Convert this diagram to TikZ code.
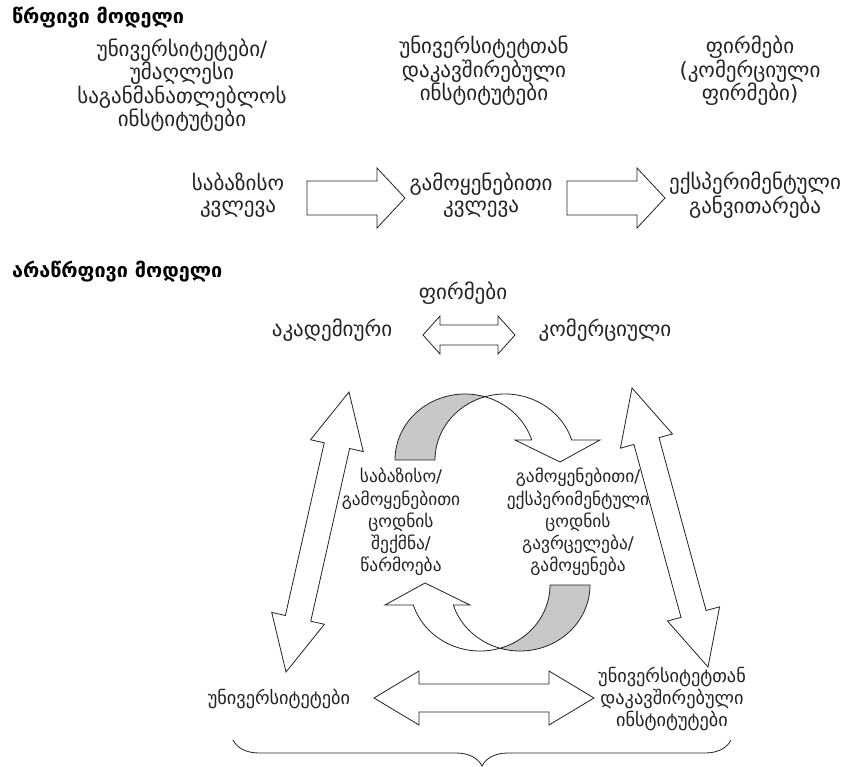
\documentclass[tikz,border=0pt]{standalone}
\usepackage{fontspec}
\setmainfont{DejaVu Sans}
\usetikzlibrary{calc,decorations.pathreplacing}

\definecolor{ink}{RGB}{35,35,35}
\definecolor{shade}{RGB}{200,200,200}

% block arrow with two heads: ends #1,#2; head length #3; head half width #4; shaft half width #5
\newcommand\dblarrow[5]{%
  \draw[blk] (#1) -- ($(#1)!#3!(#2)!#4!90:(#2)$) -- ($(#1)!#3!(#2)!#5!90:(#2)$)
    -- ($(#2)!#3!(#1)!#5!-90:(#1)$) -- ($(#2)!#3!(#1)!#4!-90:(#1)$) -- (#2)
    -- ($(#2)!#3!(#1)!#4!90:(#1)$) -- ($(#2)!#3!(#1)!#5!90:(#1)$)
    -- ($(#1)!#3!(#2)!#5!-90:(#2)$) -- ($(#1)!#3!(#2)!#4!-90:(#2)$) -- cycle;}
% block arrow with one head: tail #1, tip #2
\newcommand\sglarrow[5]{%
  \draw[blk] ($(#1)!#5!90:(#2)$) -- ($(#2)!#3!(#1)!#5!-90:(#1)$)
    -- ($(#2)!#3!(#1)!#4!-90:(#1)$) -- (#2) -- ($(#2)!#3!(#1)!#4!90:(#1)$)
    -- ($(#2)!#3!(#1)!#5!90:(#1)$) -- ($(#1)!#5!-90:(#2)$) -- cycle;}
% half-turn curved arrow: shaded back part and white front part with head
\newcommand\turnarrow{%
  \filldraw[blk, fill=shade]
    plot[domain=180:286.6, samples=40] ({465+70*cos(\x)},{460+66*sin(\x)})
    -- plot[domain=253.4:180, samples=40] ({505+70*cos(\x)},{460+66*sin(\x)}) -- cycle;
  \filldraw[blk]
    plot[domain=253.4:342.4, samples=50] ({505+70*cos(\x)},{460+66*sin(\x)})
    -- (600,440) -- (560,462) -- (515,440)
    -- plot[domain=342.4:286.6, samples=30] ({465+70*cos(\x)},{460+66*sin(\x)}) -- cycle;}

\begin{document}
\begin{tikzpicture}[x=1pt,y=-1pt,
  lbl/.style={align=center, inner sep=0pt, text=ink, font=\fontsize{21}{21.5}\selectfont},
  midlbl/.style={lbl, font=\fontsize{17.4}{22.2}\selectfont},
  lowlbl/.style={lbl, font=\fontsize{18.3}{22}\selectfont},
  heading/.style={anchor=west, inner sep=0pt, text=black, font=\fontsize{19.8}{22}\selectfont\bfseries},
  blk/.style={draw=ink, line width=0.8pt, fill=white, line join=miter}]

\fill[white] (0,0) rectangle (856,767);
\useasboundingbox (0,0) rectangle (856,767);

% ---- linear model ----
\node[heading] (title1) at (12,18) {წრფივი მოდელი};
\node[lbl] (univ)  at (182,85) {უნივერსიტეტები/\\უმაღლესი\\საგანმანათლებლოს\\ინსტიტუტები};
\node[lbl] (inst)  at (484,71) {უნივერსიტეტთან\\დაკავშირებული\\ინსტიტუტები};
\node[lbl] (firms) at (750,71) {ფირმები\\(კომერციული\\ფირმები)};

\node[lbl] (basic)   at (238,195) {საბაზისო\\კვლევა};
\node[lbl] (applied) at (481,195) {გამოყენებითი\\კვლევა};
\node[lbl] (exper)   at (755,195) {ექსპერიმენტული\\განვითარება};

\coordinate (a1s) at (307,198); \coordinate (a1e) at (405,198);
\coordinate (a2s) at (567,198); \coordinate (a2e) at (665,198);
\sglarrow{a1s}{a1e}{28pt}{30pt}{17pt}
\sglarrow{a2s}{a2e}{28pt}{30pt}{17pt}

% ---- non-linear model ----
\node[heading] (title2) at (12,272) {არაწრფივი მოდელი};
\node[lbl] (firmsB) at (463,293) {ფირმები};
\node[lbl] (acad)   at (332,330) {აკადემიური};
\node[lbl] (comm)   at (605,330) {კომერციული};
\coordinate (h1) at (423,335); \coordinate (h2) at (515,335);
\dblarrow{h1}{h2}{17pt}{19pt}{10pt}

% diagonal links
\coordinate (l1) at (349,392); \coordinate (l2) at (286,672);
\coordinate (r1) at (632,388); \coordinate (r2) at (708,667);
\dblarrow{l1}{l2}{55pt}{27pt}{13pt}
\dblarrow{r1}{r2}{55pt}{27pt}{13pt}

% knowledge cycle
\turnarrow
\begin{scope}[rotate around={180:(492.5,522.5)}]
  \turnarrow
\end{scope}

\node[midlbl] (create) at (401,522) {საბაზისო/\\გამოყენებითი\\ცოდნის\\შექმნა/\\წარმოება};
\node[midlbl] (spread) at (578,522) {გამოყენებითი/\\ექსპერიმენტული\\ცოდნის\\გავრცელება/\\გამოყენება};

% bottom row
\node[lowlbl] (unis)  at (279,699) {უნივერსიტეტები};
\node[lowlbl] (instB) at (672,699) {უნივერსიტეტთან\\დაკავშირებული\\ინსტიტუტები};
\coordinate (b1) at (374,698); \coordinate (b2) at (594,698);
\dblarrow{b1}{b2}{45pt}{27pt}{14pt}

\coordinate (br1) at (233,740); \coordinate (br2) at (731,740);
\draw[ink, line width=0.8pt, decorate, decoration={brace, amplitude=26pt, mirror}] (br1) -- (br2);
\end{tikzpicture}
\end{document}
